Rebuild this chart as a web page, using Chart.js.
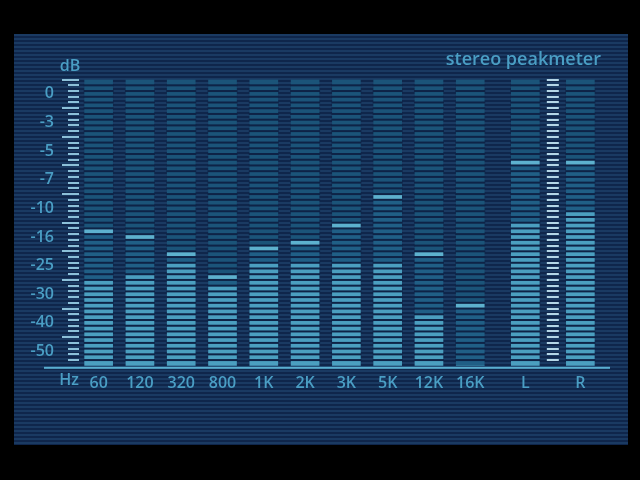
<!DOCTYPE html>
<html lang="en">
<head>
    <meta charset="UTF-8">
    <title>stereo peakmeter</title>
    <script src="https://cdn.jsdelivr.net/npm/chart.js"></script>
    <style>
        html, body {
            margin: 0;
            padding: 0;
            background: #000;
            width: 640px;
            height: 480px;
            overflow: hidden;
        }
        #panel {
            position: absolute;
            left: 14px;
            top: 34px;
            width: 614px;
            height: 411px;
        }
    </style>
</head>
<body>
    <div id="panel">
        <canvas id="meterChart" width="614" height="411"></canvas>
    </div>
    <script>
        // values, in segments (50 segments = full height)
        const bandLabels = ['60', '120', '320', '800', '1K', '2K', '3K', '5K', '12K', '16K'];
        const bandLevels = [15, 16, 18, 14, 18, 18, 18, 18, 9, 0];
        const bandPeaks = [23, 22, 19, 15, 20, 21, 24, 29, 19, 10];
        const channelLabels = ['L', 'R'];
        const channelLevels = [25, 27];
        const channelPeaks = [35, 35];
        const dbLabels = ['-50', '-40', '-30', '-25', '-16', '-10', '-7', '-5', '-3', '0'];
        const segmentCount = 50;

        const textColor = '#4a9ec4';
        const tickColor = '#8cc0d8';
        const gapColor = '#0e2346';
        const barWidth = 28;
        const font = { family: "'Open Sans', sans-serif", size: 16, weight: '600' };

        // the x axis is cut into narrow slots, bands sit on every third one
        const slotCount = 38;
        const channelSlots = [32, 36];
        const scaleSlot = 34;

        const labels = new Array(slotCount).fill('');
        const lit = new Array(slotCount).fill(null);
        const mid = new Array(slotCount).fill(null);
        const peak = new Array(slotCount).fill(null);
        const dim = new Array(slotCount).fill(null);
        const meterSlots = [];

        function addMeter(slot, name, level, peakSeg) {
            labels[slot] = name;
            lit[slot] = level;
            mid[slot] = peakSeg - level;
            peak[slot] = 1;
            dim[slot] = segmentCount - peakSeg - 1;
            meterSlots.push(slot);
        }

        bandLabels.forEach((name, i) => addMeter(1 + 3 * i, name, bandLevels[i], bandPeaks[i]));
        channelLabels.forEach((name, i) => addMeter(channelSlots[i], name, channelLevels[i], channelPeaks[i]));

        const panelPlugin = {
            id: 'panel',
            beforeDraw(chart) {
                const ctx = chart.ctx;
                ctx.save();
                ctx.fillStyle = '#0f264b';
                ctx.fillRect(0, 0, chart.width, chart.height);
                ctx.fillStyle = '#1a3a62';
                for (let y = 0; y < chart.height; y += 4) {
                    ctx.fillRect(0, y, chart.width, 2);
                }
                ctx.restore();
            },
            afterDatasetsDraw(chart) {
                const ctx = chart.ctx;
                const x = chart.scales.x;
                const y = chart.scales.y;
                const area = chart.chartArea;
                ctx.save();

                // dark gaps between the segments of each meter
                ctx.fillStyle = gapColor;
                meterSlots.forEach(slot => {
                    const cx = x.getPixelForValue(slot);
                    for (let b = 1; b < segmentCount; b++) {
                        const py = y.getPixelForValue(b);
                        ctx.fillRect(cx - barWidth / 2 - 1, py - 1, barWidth + 2, 2);
                    }
                });

                // scale marks on the left and between L and R
                const sx = x.getPixelForValue(scaleSlot);
                for (let b = 1; b <= segmentCount; b++) {
                    const py = Math.round(y.getPixelForValue(b));
                    ctx.fillStyle = tickColor;
                    const len = b % 5 === 0 ? 17 : 11;
                    ctx.fillRect(area.left + 1 - len, py - 1, len, 2);
                    ctx.fillStyle = '#b4d6e6';
                    ctx.fillRect(sx - 6, py - 1, 12, 2);
                }

                // base line
                ctx.fillStyle = '#5aaed0';
                ctx.fillRect(area.left - 34, area.bottom + 1, area.right - area.left + 43, 2);

                ctx.fillStyle = textColor;
                ctx.font = font.weight + ' ' + font.size + 'px ' + font.family;
                ctx.textAlign = 'center';
                ctx.textBaseline = 'middle';
                ctx.fillText('dB', area.left - 8, area.top - 13);
                ctx.fillText('Hz', area.left - 9, area.bottom + 15);
                ctx.restore();
            }
        };

        const common = { barThickness: barWidth, borderWidth: 0 };

        new Chart(document.getElementById('meterChart'), {
            type: 'bar',
            data: {
                labels: labels,
                datasets: [
                    { label: 'level', data: lit, backgroundColor: '#4b9fc0', ...common },
                    { label: 'decay', data: mid, backgroundColor: '#205f86', ...common },
                    { label: 'peak', data: peak, backgroundColor: '#5db1ce', ...common },
                    { label: 'off', data: dim, backgroundColor: '#1b5479', ...common }
                ]
            },
            options: {
                responsive: false,
                animation: false,
                layout: { padding: { left: 0, right: 27, top: 0, bottom: 52 } },
                plugins: {
                    legend: { display: false },
                    tooltip: { enabled: false },
                    title: {
                        display: true,
                        text: 'stereo peakmeter',
                        align: 'end',
                        color: textColor,
                        font: { family: font.family, size: 18, weight: '600' },
                        padding: { top: 15, bottom: 9 }
                    }
                },
                scales: {
                    x: {
                        stacked: true,
                        grid: { display: false },
                        border: { display: false },
                        ticks: {
                            color: textColor,
                            font: font,
                            autoSkip: false,
                            maxRotation: 0,
                            padding: 0
                        }
                    },
                    y: {
                        stacked: true,
                        min: 0,
                        max: segmentCount,
                        grid: { display: false },
                        border: { display: false },
                        afterBuildTicks: scale => {
                            scale.ticks = dbLabels.map((t, i) => ({ value: 2.5 + 5 * i }));
                        },
                        afterFit: scale => { scale.width = 64; },
                        ticks: {
                            color: textColor,
                            font: font,
                            padding: 16,
                            callback: (value, index) => dbLabels[index]
                        }
                    }
                }
            },
            plugins: [panelPlugin]
        });
    </script>
</body>
</html>
